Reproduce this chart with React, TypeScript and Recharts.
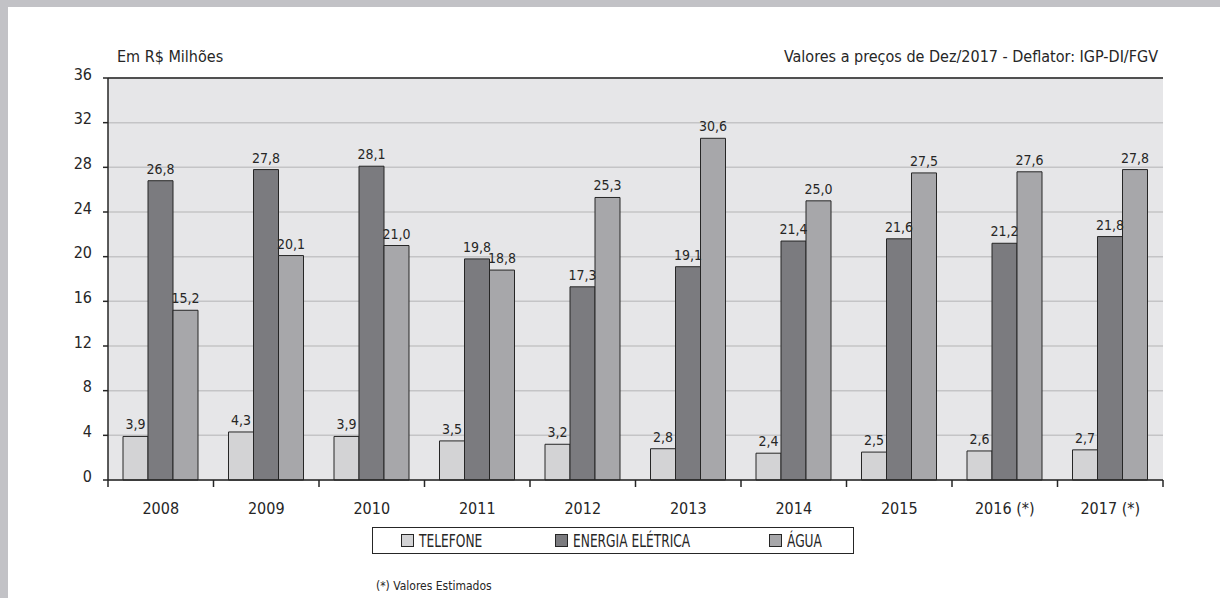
import React from 'react';
import { BarChart, Bar, XAxis, YAxis, CartesianGrid, LabelList, ReferenceLine } from 'recharts';

const years = ['2008', '2009', '2010', '2011', '2012', '2013', '2014', '2015', '2016 (*)', '2017 (*)'];
const telefone = [3.9, 4.3, 3.9, 3.5, 3.2, 2.8, 2.4, 2.5, 2.6, 2.7];
const energia = [26.8, 27.8, 28.1, 19.8, 17.3, 19.1, 21.4, 21.6, 21.2, 21.8];
const agua = [15.2, 20.1, 21.0, 18.8, 25.3, 30.6, 25.0, 27.5, 27.6, 27.8];
const yTicks = [0, 4, 8, 12, 16, 20, 24, 28, 32, 36];

const FONT = '"DejaVu Sans Condensed", "DejaVu Sans", sans-serif';
const INK = '#262626';

const W = 1220;
const H = 598;
const MARGIN = { top: 78, right: 57, left: 48, bottom: 78 };
const Y_AXIS_W = 60;
const PLOT_W = W - MARGIN.left - MARGIN.right - Y_AXIS_W;

const data = years.map((year, i) => ({ year, telefone: telefone[i], energia: energia[i], agua: agua[i] }));

const fmt = (v: any) => Number(v).toFixed(1).replace('.', ',');

const YTick = ({ x, y, payload }: any) => (
  <text x={x} y={y} dy={-4} textAnchor="end" dominantBaseline="central" fontSize={16} fill={INK} fontFamily={FONT}>
    {payload.value}
  </text>
);

// category label plus tick marks on the band edges
const YearTick = ({ x, y, payload, index }: any) => {
  const half = payload.offset || PLOT_W / years.length / 2;
  return (
    <g>
      <line x1={x - half} x2={x - half} y1={y} y2={y + 7} stroke={INK} strokeWidth={1.5} />
      {index === years.length - 1 && <line x1={x + half} x2={x + half} y1={y} y2={y + 7} stroke={INK} strokeWidth={1.5} />}
      <text x={x} y={y + 28} textAnchor="middle" dominantBaseline="central" fontSize={16} fill={INK} fontFamily={FONT}>
        {payload.value}
      </text>
    </g>
  );
};

const legendItems = [
  { name: 'TELEFONE', color: '#d3d3d5', left: 28 },
  { name: 'ENERGIA ELÉTRICA', color: '#7b7b7f', left: 182 },
  { name: 'ÁGUA', color: '#a7a7aa', left: 396 },
];

export default function App() {
  return (
    <div style={{ position: 'fixed', top: 0, left: 0, width: W, height: H, background: '#fff', fontFamily: FONT, color: INK, overflow: 'hidden' }}>
      <div style={{ position: 'absolute', top: 0, left: 0, width: W, height: 7, background: '#c2c2c6' }} />
      <div style={{ position: 'absolute', top: 0, left: 0, width: 8, height: H, background: '#c2c2c6' }} />

      <div style={{ position: 'absolute', left: 117, top: 47, fontSize: 16, lineHeight: '20px' }}>Em R$ Milhões</div>
      <div style={{ position: 'absolute', right: 62, top: 47, fontSize: 16, lineHeight: '20px' }}>
        Valores a preços de Dez/2017 - Deflator: IGP-DI/FGV
      </div>

      <div style={{ position: 'absolute', top: 0, left: 0 }}>
        <BarChart width={W} height={H} data={data} margin={MARGIN} barCategoryGap={15} barGap={0}>
          <CartesianGrid vertical={false} fill="#e6e6e8" stroke="#c4c4c6" strokeWidth={1.5} />
          <XAxis
            dataKey="year"
            interval={0}
            height={40}
            tickSize={0}
            tickMargin={0}
            tickLine={false}
            axisLine={{ stroke: INK, strokeWidth: 1.5 }}
            tick={<YearTick />}
          />
          <YAxis
            domain={[0, 36]}
            ticks={yTicks}
            interval={0}
            width={Y_AXIS_W}
            tickSize={5}
            tickMargin={11}
            tickLine={{ stroke: INK, strokeWidth: 1.5 }}
            axisLine={{ stroke: INK, strokeWidth: 1.5 }}
            tick={<YTick />}
          />
          <YAxis yAxisId="frame" orientation="right" width={0} tick={false} tickLine={false} axisLine={{ stroke: INK, strokeWidth: 1.5 }} />
          <ReferenceLine y={36} stroke={INK} strokeWidth={1.5} />
          <Bar dataKey="telefone" fill="#d3d3d5" stroke={INK} strokeWidth={1} isAnimationActive={false}>
            <LabelList dataKey="telefone" position="top" offset={7} formatter={fmt} fontSize={14} fill={INK} fontFamily={FONT} />
          </Bar>
          <Bar dataKey="energia" fill="#7b7b7f" stroke={INK} strokeWidth={1} isAnimationActive={false}>
            <LabelList dataKey="energia" position="top" offset={7} formatter={fmt} fontSize={14} fill={INK} fontFamily={FONT} />
          </Bar>
          <Bar dataKey="agua" fill="#a7a7aa" stroke={INK} strokeWidth={1} isAnimationActive={false}>
            <LabelList dataKey="agua" position="top" offset={7} formatter={fmt} fontSize={14} fill={INK} fontFamily={FONT} />
          </Bar>
        </BarChart>
      </div>

      <div style={{ position: 'absolute', left: 372, top: 527, width: 480, height: 25, border: `1px solid ${INK}` }}>
        {legendItems.map((it) => (
          <div key={it.name} style={{ position: 'absolute', left: it.left, top: 0, height: 25, display: 'flex', alignItems: 'center', fontSize: 17, whiteSpace: 'nowrap' }}>
            <span style={{ display: 'inline-block', width: 11, height: 11, background: it.color, border: `1px solid ${INK}`, marginRight: 5 }} />
            <span style={{ display: 'inline-block', transform: 'scaleX(0.8)', transformOrigin: 'left center' }}>{it.name}</span>
          </div>
        ))}
      </div>

      <div style={{ position: 'absolute', left: 376, top: 578, fontSize: 12, lineHeight: '16px' }}>(*) Valores Estimados</div>
    </div>
  );
}
